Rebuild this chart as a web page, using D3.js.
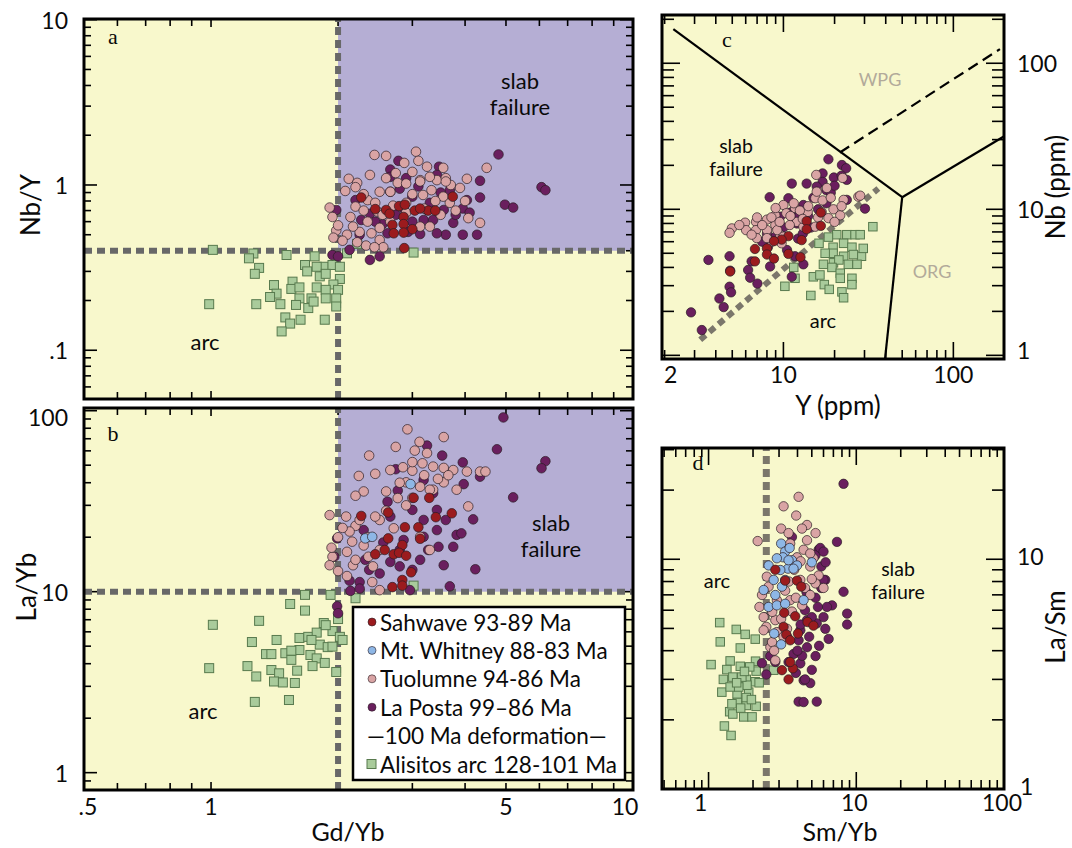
<!DOCTYPE html>
<html><head><meta charset="utf-8">
<script src="https://cdn.jsdelivr.net/npm/d3@7"></script>
<style>
body{margin:0;background:#fff}
svg{display:block}
text{font-family:Lato,'Open Sans',sans-serif;fill:#0a0a0a}
</style>
</head><body>
<svg id="chart" width="1072" height="848"></svg>
<script>
// ---------------- DATA ----------------
// Panel a: Gd/Yb vs Nb/Y
const aAlisitos = [[1.01,0.405],[1.26,0.385],[1.23,0.36],[1.30,0.315],[1.27,0.29],[1.51,0.377],[1.41,0.248],[1.43,0.22],[1.38,0.21],[1.46,0.19],[0.99,0.19],[1.28,0.19],[1.56,0.26],[1.55,0.235],[1.62,0.24],[1.76,0.37],[1.67,0.328],[1.69,0.30],[1.81,0.28],[1.85,0.32],[1.94,0.328],[2.02,0.32],[2.02,0.27],[1.95,0.25],[1.78,0.24],[1.73,0.206],[1.62,0.206],[1.59,0.188],[1.70,0.18],[1.75,0.197],[1.87,0.232],[2.0,0.232],[1.98,0.206],[1.87,0.206],[1.50,0.158],[1.54,0.145],[1.47,0.13],[1.63,0.153],[1.86,0.153],[1.98,0.184],[2.10,0.386],[1.78,0.32],[1.87,0.29],[3.02,0.39],[2.22,0.44]];
const aLaPosta = [[2.78,1.40],[2.66,1.24],[3.47,1.29],[4.8,1.53],[4.34,1.06],[4.34,0.84],[4.97,0.76],[5.2,0.73],[6.07,0.97],[6.2,0.93],[3.95,0.50],[4.27,0.50],[3.75,0.59],[3.6,0.50],[3.43,0.51],[3.13,0.505],[2.93,0.52],[2.74,0.66],[2.86,0.72],[3.25,0.706],[3.56,0.706],[3.95,0.72],[2.38,0.67],[2.27,0.614],[2.66,0.91],[2.25,0.50],[2.13,0.405],[1.94,0.377],[2.38,0.352],[2.51,0.37],[1.98,0.706],[2.2,0.81],[3.19,0.614],[4.04,0.81],[3.0,0.85],[2.62,0.51],[3.36,0.614],[3.68,0.93],[2.66,1.12],[3.43,1.15],[3.0,0.6],[3.3,0.78],[2.55,0.58],[3.8,0.66],[2.8,0.95],[4.1,0.68],[3.1,0.98],[2.45,0.6],[3.5,0.9],[2.9,1.1],[2.0,0.37]];
const aTuolumne = [[2.44,1.52],[3.06,1.59],[3.13,1.07],[2.87,1.36],[2.38,1.15],[2.6,1.10],[2.74,1.18],[3.0,1.20],[3.25,1.29],[3.55,1.27],[4.5,1.27],[4.04,1.09],[2.12,1.09],[2.22,1.03],[2.08,0.92],[2.51,0.91],[2.66,0.91],[2.77,1.03],[3.13,1.05],[3.43,1.07],[3.6,1.10],[3.89,0.96],[3.33,0.93],[2.2,0.74],[1.91,0.73],[1.94,0.64],[2.14,0.64],[2.35,0.81],[2.48,0.69],[2.35,0.6],[1.98,0.53],[2.1,0.50],[2.25,0.52],[2.33,0.43],[2.51,0.465],[2.17,0.56],[2.51,0.55],[2.66,0.60],[3.13,0.56],[3.3,0.56],[4.07,0.63],[4.34,0.59],[3.68,0.78],[2.9,0.78],[3.18,0.87],[3.55,0.85],[2.4,0.51],[2.22,0.45],[2.56,0.42],[2.44,0.42],[2.7,0.75],[2.9,0.68],[3.2,0.72],[3.4,0.8],[3.0,0.88],[2.45,0.78],[2.3,0.88],[3.7,1.0],[3.3,1.12],[2.9,1.02],[2.55,0.66],[3.5,0.66],[3.8,0.7],[2.0,0.57],[1.95,0.48],[2.05,0.46],[2.6,1.5],[3.1,1.4],[2.2,0.97],[3.6,1.05],[4.0,0.8],[2.3,0.7]];
const aSahwave = [[2.27,0.84],[2.45,0.715],[2.6,0.706],[2.79,0.745],[2.88,0.76],[3.04,0.70],[3.27,0.70],[3.4,0.70],[3.74,0.85],[2.86,0.64],[2.69,0.573],[2.86,0.58],[3.0,0.54],[2.71,0.51],[2.86,0.515],[2.87,0.415],[2.65,0.67],[3.13,0.72]];

// Panel b: Gd/Yb vs La/Yb
const bAlisitos = [[1.01,6.56],[1.30,6.9],[1.54,8.55],[1.67,9.6],[1.67,7.86],[1.92,9.6],[1.25,5.27],[1.43,5.41],[0.99,3.78],[1.22,3.88],[1.28,3.40],[1.27,2.46],[1.53,2.52],[1.35,4.52],[1.39,4.52],[1.50,4.57],[1.55,4.2],[1.39,3.69],[1.45,3.54],[1.41,3.19],[1.48,3.15],[1.58,3.13],[1.60,3.66],[1.62,5.55],[1.62,4.76],[1.72,4.47],[1.78,4.28],[1.74,3.88],[1.86,4.04],[1.81,5.1],[1.70,5.63],[1.78,5.94],[1.85,6.71],[1.94,6.06],[2.0,7.06],[2.02,5.63],[1.89,4.94],[1.94,4.97],[1.98,3.6],[1.73,5.41],[1.55,4.72],[1.87,6.53],[2.05,5.41],[2.2,9.2],[3.02,10.8]];
const bLaPosta = [[4.93,91.8],[4.76,61.2],[3.25,64.2],[3.53,56.5],[3.95,51.8],[2.74,47.5],[3.97,39.3],[4.34,43.2],[2.77,36.2],[2.62,31.4],[5.2,33.2],[4.18,25.1],[3.82,20.6],[3.92,21.0],[3.46,17.7],[3.56,14.0],[4.23,13.3],[3.68,10.7],[1.99,19.7],[1.96,15.6],[2.13,11.5],[2.25,11.3],[2.96,10.2],[3.27,17.0],[3.13,15.0],[3.0,13.2],[2.8,13.8],[2.66,14.6],[2.51,12.6],[2.37,13.2],[2.32,15.0],[2.3,21.9],[2.66,26.0],[3.0,28.3],[3.19,24.9],[3.43,28.3],[3.6,24.9],[3.75,17.7],[3.19,20.1],[2.86,19.3],[3.43,21.9],[2.56,18.7],[2.8,17.0],[3.36,35.0],[3.19,41.4],[6.2,52.6],[6.07,48.1],[1.99,8.3],[2.0,7.6],[2.14,10.1],[2.25,10.4]];
const bTuolumne = [[2.92,78.9],[3.56,71.5],[3.12,67.3],[2.74,63.1],[3.04,60.2],[2.37,56.5],[3.25,58.3],[2.45,44.8],[2.24,43.6],[2.85,48.7],[3.0,46.6],[3.17,51.2],[3.36,49.1],[3.56,48.3],[3.75,47.0],[4.04,46.1],[4.34,46.1],[4.47,46.1],[2.3,35.8],[2.2,33.9],[2.6,35.8],[2.77,32.9],[3.13,38.0],[3.36,36.6],[3.56,40.2],[3.82,36.6],[4.07,29.6],[1.91,26.5],[2.09,26.0],[2.2,23.1],[2.25,24.9],[2.13,21.5],[2.16,18.9],[2.1,16.6],[1.94,15.6],[1.91,14.0],[2.17,14.0],[2.36,15.6],[2.42,13.8],[2.51,17.0],[2.71,22.4],[2.51,24.9],[2.1,12.2],[2.41,11.3],[2.51,10.2],[3.30,17.0],[3.13,20.1],[3.3,36.6],[2.9,40.2],[2.66,47.0],[2.0,20],[2.3,18],[2.6,28],[2.9,30],[3.2,44],[3.45,42],[2.35,20],[2.45,26],[3.0,52],[3.65,44],[2.8,40],[2.2,15],[2.0,13],[3.0,33],[1.93,17.5],[2.05,22.5]];
const bSahwave = [[3.02,33.0],[3.29,33.0],[2.27,26.2],[2.63,27.4],[3.41,25.8],[3.72,27.1],[2.88,22.7],[3.10,22.7],[2.63,19.7],[3.13,19.6],[2.84,18.1],[2.45,16.1],[2.58,17.0],[2.71,16.1],[2.79,16.4],[2.9,15.8],[2.98,12.8],[2.84,11.6],[2.69,10.6],[2.84,10.8]];
const bWhitney = [[2.97,39.3],[2.32,19.7],[2.41,20.1]];

// Panel c: Y (ppm) vs Nb (ppm)
const cAlisitos = [[33.6,7.6],[23.6,6.7],[26.4,6.7],[20.6,6.7],[16.2,5.85],[18.4,6.45],[19.6,5.5],[22.6,5.85],[25.3,5.5],[28.8,4.77],[25.8,4.9],[22.6,4.77],[19.6,5.0],[17.6,5.0],[17.2,4.2],[19.7,4.3],[21.2,4.5],[24.1,4.2],[27.1,4.2],[19.3,4.0],[21.6,3.65],[25.3,3.37],[25.3,3.05],[21.6,3.37],[22.1,2.72],[22.6,2.48],[11.5,4.0],[11.7,3.37],[10.2,2.97],[17.4,3.05],[14.5,2.57],[18.6,2.83],[15.0,3.45],[16.4,3.55],[29.5,5.4],[28.3,6.7]];
const cLaPosta = [[22.1,20.1],[23.4,19.1],[23.6,15.9],[19.8,16.5],[17.0,17.6],[17.0,15.4],[13.7,15.0],[11.2,15.0],[8.3,12.1],[10.7,11.9],[15.7,14.3],[17.9,13.5],[17.9,11.0],[30.2,10.1],[23.6,11.6],[13.1,10.7],[11.7,8.9],[9.56,8.9],[8.0,6.8],[8.1,5.5],[10.5,5.26],[11.7,4.77],[13.1,4.2],[11.2,3.45],[8.35,4.06],[6.5,4.4],[6.2,3.84],[6.37,3.4],[7.03,3.1],[4.82,4.77],[4.86,3.8],[4.82,2.95],[4.92,2.7],[3.62,4.5],[4.2,2.45],[4.45,2.14],[2.86,1.97],[3.31,1.49],[12.2,6.3],[9.2,6.45],[18.4,22.0],[10,7.5],[12,8],[14,9],[16,10],[9,6.5],[13,6.8],[15,12],[19,13],[11,9.5],[7.5,6],[20,14.5],[22,17],[14.5,7.5]];
const cTuolumne = [[4.97,7.4],[4.82,6.9],[5.95,8.1],[6.03,7.2],[6.9,8.2],[6.9,7.2],[6.97,6.35],[8.0,8.5],[8.0,7.2],[8.96,9.1],[8.96,7.8],[10.0,10.7],[10.4,9.4],[11.7,10.2],[12.0,8.2],[13.9,9.6],[15.4,11.9],[15.7,13.2],[15.6,17.2],[19.7,10.0],[21.6,9.1],[22.6,11.6],[27.6,12.2],[18.4,8.7],[13.1,7.6],[10.9,7.8],[9.56,6.7],[8.55,6.0],[8.0,6.35],[9.76,5.85],[9.2,7.2],[15.4,7.6],[16.8,9.6],[22.3,16.4],[28.3,12.4],[5.5,7.8],[6.5,6.7],[7.5,7.8],[8.5,8.8],[9.5,8.2],[11,9],[12.5,9.8],[14,10.5],[17,11.5],[19,12],[7,8.8],[10,6.5],[13,8.6],[16,8.8],[20,8.2],[11.5,11],[9,10.2],[18,14],[22,10.5]];
const cSahwave = [[16.6,9.5],[13.7,8.3],[13.7,7.3],[16.6,7.7],[10.7,6.55],[9.76,6.2],[8.8,6.05],[12.8,6.15],[6.8,5.35],[8.0,5.4],[8.0,4.9],[6.8,4.4],[8.8,4.6],[10.7,4.95],[12.6,4.7],[4.86,3.75]];
const cBoundaryWPG = [[2.25,171],[50,12.1]];
const cBoundaryORG = [[50,12.1],[198,31.5]];
const cBoundaryVAG = [[50,12.1],[39.6,0.94]];
const cBoundaryDashed = [[21.5,24.5],[188,125]];
const cSlabArcLine = [[3.24,1.28],[36.2,13.9]];

// Panel d: Sm/Yb vs La/Sm
const dAlisitos = [[1.19,5.30],[1.54,4.95],[1.77,4.71],[2.07,4.49],[1.2,4.37],[1.64,4.11],[1.04,3.48],[1.40,3.61],[1.33,3.31],[1.64,3.42],[1.26,3.00],[1.46,3.07],[1.80,3.0],[2.1,3.26],[2.07,2.93],[1.23,2.64],[1.56,2.59],[1.87,2.64],[1.57,2.38],[1.80,2.31],[2.1,2.29],[1.39,2.17],[1.46,2.12],[1.73,2.06],[1.97,2.06],[1.28,1.88],[1.42,1.71],[2.76,3.29],[1.82,2.83],[1.6,2.78],[1.40,2.78],[1.8,2.5],[1.44,2.35],[1.68,3.07],[2.08,3.6],[1.9,3.4],[1.55,2.9],[1.95,2.45],[1.65,2.25],[2.2,2.9],[1.75,3.25]];
const dLaPosta = [[8.2,21.3],[7.4,11.9],[5.56,11.0],[5.3,10.4],[6.17,8.13],[8.2,7.22],[6.85,6.3],[6.33,6.2],[8.67,5.8],[8.67,5.2],[6.17,4.98],[5.4,5.26],[4.64,5.43],[4.18,4.91],[4.07,4.44],[4.64,4.14],[5.3,3.79],[3.76,3.87],[3.48,3.57],[2.83,3.57],[2.3,3.53],[2.62,3.79],[4.18,3.52],[4.4,2.97],[4.88,2.89],[4.07,2.4],[4.4,2.39],[5.4,2.4],[6.0,8.13],[2.46,3.15],[5.7,11.2],[6.0,10.8],[3.67,12.5],[4.5,6.0],[5.0,5.6],[5.3,6.8],[4.8,4.6],[5.6,4.2],[4.3,3.8],[5.8,7.5],[4.0,4.0],[5.0,3.3],[6.5,4.5],[3.9,3.2],[5.5,6.2],[4.6,7.2],[3.4,4.6],[4.2,5.2],[6.0,5.6],[5.8,9.3],[6.2,9.7],[4.5,3.0]];
const dTuolumne = [[4.07,18.7],[3.22,17.0],[3.92,15.5],[4.64,14.1],[5.3,13.0],[3.1,13.6],[4.29,13.6],[2.15,12.0],[3.57,11.7],[4.64,12.1],[4.4,11.0],[5.13,10.1],[4.88,9.3],[5.56,8.5],[5.3,7.85],[6.0,7.5],[4.18,8.13],[4.5,7.5],[4.88,6.99],[2.48,8.4],[2.55,7.6],[2.3,6.99],[2.21,6.2],[2.36,5.6],[2.46,5.08],[2.83,5.43],[2.9,4.82],[3.4,4.98],[2.9,6.64],[3.57,6.64],[3.67,5.92],[3.22,4.6],[2.83,3.63],[2.62,4.14],[2.36,4.91],[4.88,10.6],[3.97,10.2],[3.48,13.0],[2.69,4.36],[2.78,4.0],[3.8,9.0],[4.2,9.8],[3.3,7.3],[3.9,6.8],[4.3,6.3],[3.1,5.5],[3.5,8.0],[5.0,8.2],[2.7,5.9]];
const dWhitney = [[3.1,11.7],[3.3,10.8],[3.67,9.9],[3.45,9.1],[3.97,9.4],[3.19,10.2],[2.55,9.4],[3.06,8.98],[3.3,8.13],[3.14,7.6],[2.36,7.35],[2.83,6.99],[2.55,6.2],[2.9,6.3],[3.3,6.4],[4.4,6.64],[5.0,9.7],[2.78,4.75],[3.1,4.26],[3.48,9.9],[3.76,9.1],[2.9,10.1],[2.76,8.13],[3.54,11.2]];
const dSahwave = [[2.83,9.0],[3.3,8.07],[3.97,8.07],[4.24,7.6],[3.25,5.85],[3.86,5.65],[4.68,5.33],[5.13,5.14],[3.22,5.08],[3.36,4.7],[4.03,4.75],[3.57,4.44],[3.14,3.29],[3.72,3.35],[3.48,3.0],[3.57,3.57]];

// Tick labels
const abXTickLabels = [[0.5,".5"],[1,"1"],[5,"5"],[10,"10"]];
const aYTickLabels = [[0.1,".1"],[1,"1"],[10,"10"]];
const bYTickLabels = [[1,"1"],[10,"10"],[100,"100"]];
const cXTickLabels = [[2,"2"],[10,"10"],[100,"100"]];
const cYTickLabels = [[1,"1"],[10,"10"],[100,"100"]];
const dXTickLabels = [[1,"1"],[10,"10"],[100,"100"]];
const dYTickLabels = [[1,"1"],[10,"10"]];

// Legend
const legendLabels = ["Sahwave 93-89 Ma","Mt. Whitney 88-83 Ma","Tuolumne 94-86 Ma","La Posta 99\u201386 Ma","\u2014100 Ma deformation\u2014","Alisitos arc 128-101 Ma"];
const legendKeys = ["sahwave","whitney","tuolumne","laposta","line","alisitos"];

// ---------------- STYLE ----------------
const COL = {
  yellow:"#f8f8cc", purpleBg:"#b5aed4",
  sahwave:"#9b1b1e", whitney:"#8eb7e6", tuolumne:"#d9a4a4", laposta:"#6a1f5e",
  alisitos:"#a9cb9b", alisitosStroke:"#587a4e",
  dashAB:"#686868", dashCD:"#7b776b"
};
const svg = d3.select("#chart");

function logTickValues(dom){
  const out=[];
  const lo=Math.floor(Math.log10(dom[0])), hi=Math.ceil(Math.log10(dom[1]));
  for(let k=lo;k<=hi;k++) for(let m=1;m<=9;m++){
    const v=m*Math.pow(10,k);
    if(v>=dom[0]*1.001 && v<=dom[1]*0.999) out.push(v);
  }
  return out;
}
const isDecade = v => Math.abs(Math.log10(v)-Math.round(Math.log10(v)))<1e-6;

function makePanel(cfg){
  const x=d3.scaleLog().domain(cfg.xDomain).range([cfg.x0,cfg.x1]);
  const y=d3.scaleLog().domain(cfg.yDomain).range([cfg.y1,cfg.y0]);
  const g=svg.append("g");
  g.append("rect").attr("x",cfg.x0).attr("y",cfg.y0).attr("width",cfg.x1-cfg.x0).attr("height",cfg.y1-cfg.y0).attr("fill",COL.yellow);
  return {x,y,g,cfg};
}
function drawTicks(p, o){
  const {x,y,g,cfg}=p;
  const tg=g.append("g").attr("stroke","#000").attr("stroke-width",1.6);
  logTickValues(cfg.xDomain).forEach(v=>{
    const L = isDecade(v)?o.xMaj:o.xMin;
    tg.append("line").attr("x1",x(v)).attr("x2",x(v)).attr("y1",cfg.y1).attr("y2",cfg.y1-L);
    tg.append("line").attr("x1",x(v)).attr("x2",x(v)).attr("y1",cfg.y0).attr("y2",cfg.y0+L);
  });
  logTickValues(cfg.yDomain).forEach(v=>{
    const L = isDecade(v)?o.yMaj:o.yMin;
    tg.append("line").attr("y1",y(v)).attr("y2",y(v)).attr("x1",cfg.x0).attr("x2",cfg.x0+L);
    tg.append("line").attr("y1",y(v)).attr("y2",y(v)).attr("x1",cfg.x1).attr("x2",cfg.x1-L);
  });
}
function drawFrame(p){
  const c=p.cfg;
  p.g.append("rect").attr("x",c.x0).attr("y",c.y0).attr("width",c.x1-c.x0).attr("height",c.y1-c.y0)
    .attr("fill","none").attr("stroke","#000").attr("stroke-width",3);
}
function circles(p, data, color, r){
  p.g.append("g").selectAll("circle").data(data).join("circle")
    .attr("cx",d=>p.x(d[0])).attr("cy",d=>p.y(d[1])).attr("r",r)
    .attr("fill",color).attr("stroke","#2a1c24").attr("stroke-width",0.7);
}
function squares(p, data, s){
  p.g.append("g").selectAll("rect").data(data).join("rect")
    .attr("x",d=>p.x(d[0])-s/2).attr("y",d=>p.y(d[1])-s/2).attr("width",s).attr("height",s)
    .attr("fill",COL.alisitos).attr("stroke",COL.alisitosStroke).attr("stroke-width",1);
}
function line(p, pts, opts){
  p.g.append("path").attr("d",d3.line().x(d=>p.x(d[0])).y(d=>p.y(d[1]))(pts))
    .attr("fill","none").attr("stroke",opts.color).attr("stroke-width",opts.width)
    .attr("stroke-dasharray",opts.dash||null);
}
function txt(x,y,s,size,opts={}){
  const t=svg.append("text").attr("x",x).attr("y",y).attr("font-size",size).text(s)
    .attr("text-anchor",opts.anchor||"middle").attr("dominant-baseline",opts.baseline||"auto");
  if(opts.fill) t.style("fill",opts.fill);
  if(opts.family) t.style("font-family",opts.family);
  if(opts.rotate) t.attr("transform",`rotate(${opts.rotate},${x},${y})`);
  return t;
}

// ---------------- PANEL A ----------------
const A = makePanel({x0:84,x1:633,y0:19,y1:399,xDomain:[0.5,10],yDomain:[0.0507,10.1]});
A.g.append("rect").attr("x",A.x(2)).attr("y",A.cfg.y0).attr("width",A.cfg.x1-A.x(2)).attr("height",A.y(0.4)-A.cfg.y0).attr("fill",COL.purpleBg);
drawTicks(A,{xMaj:8,xMin:7,yMaj:13,yMin:7});
line(A,[[2,0.0507],[2,10.1]],{color:COL.dashAB,width:6,dash:"8,5"});
line(A,[[0.5,0.4],[10,0.4]],{color:COL.dashAB,width:6,dash:"8,5"});
squares(A,aAlisitos,9);
circles(A,aLaPosta,COL.laposta,4.8);
circles(A,aTuolumne,COL.tuolumne,4.8);
circles(A,aSahwave,COL.sahwave,4.8);
drawFrame(A);

// ---------------- PANEL B ----------------
const B = makePanel({x0:84,x1:633,y0:408,y1:790,xDomain:[0.5,10],yDomain:[0.802,103.5]});
B.g.append("rect").attr("x",B.x(2)).attr("y",B.cfg.y0).attr("width",B.cfg.x1-B.x(2)).attr("height",B.y(10)-B.cfg.y0).attr("fill",COL.purpleBg);
drawTicks(B,{xMaj:8,xMin:7,yMaj:13,yMin:7});
line(B,[[2,0.802],[2,103.5]],{color:COL.dashAB,width:6,dash:"8,5"});
line(B,[[0.5,10],[10,10]],{color:COL.dashAB,width:6,dash:"8,5"});
squares(B,bAlisitos,9);
circles(B,bLaPosta,COL.laposta,4.8);
circles(B,bTuolumne,COL.tuolumne,4.8);
circles(B,bWhitney,COL.whitney,4.8);
circles(B,bSahwave,COL.sahwave,4.8);
drawFrame(B);

// ---------------- PANEL C ----------------
const C = makePanel({x0:662,x1:1004,y0:15,y1:359,xDomain:[1.93,198.6],yDomain:[0.944,214]});
drawTicks(C,{xMaj:17,xMin:9,yMaj:18,yMin:12});
line(C,cBoundaryWPG,{color:"#000",width:2.2});
line(C,cBoundaryORG,{color:"#000",width:2.2});
line(C,cBoundaryVAG,{color:"#000",width:2.2});
line(C,cBoundaryDashed,{color:"#000",width:2.2,dash:"11,6"});
line(C,cSlabArcLine,{color:COL.dashCD,width:6,dash:"7,5"});
squares(C,cAlisitos,8.5);
circles(C,cLaPosta,COL.laposta,4.7);
circles(C,cTuolumne,COL.tuolumne,4.7);
circles(C,cSahwave,COL.sahwave,4.7);
drawFrame(C);

// ---------------- PANEL D ----------------
const D = makePanel({x0:662,x1:1004,y0:448,y1:789,xDomain:[0.484,100],yDomain:[1,30.5]});
drawTicks(D,{xMaj:17,xMin:9,yMaj:18,yMin:12});
line(D,[[2.46,1],[2.46,30.5]],{color:COL.dashCD,width:7,dash:"8,5"});
squares(D,dAlisitos,8.5);
circles(D,dLaPosta,COL.laposta,4.7);
circles(D,dTuolumne,COL.tuolumne,4.7);
circles(D,dWhitney,COL.whitney,4.7);
circles(D,dSahwave,COL.sahwave,4.7);
drawFrame(D);

// ---------------- TEXT ----------------
const TICK=23, TITLE=26, REG=22;
aYTickLabels.forEach(([v,s])=>txt(68,A.y(v),s,TICK,{anchor:"end",baseline:"central"}));
bYTickLabels.forEach(([v,s])=>txt(68,B.y(v)+(v===100?6:0),s,TICK,{anchor:"end",baseline:"central"}));
abXTickLabels.forEach(([v,s])=>txt(B.x(v)+(v===0.5?4:(v===10?-8:0)),806,s,TICK,{baseline:"central"}));
cXTickLabels.forEach(([v,s])=>txt(C.x(v)+(v===2?6:0),374,s,TICK,{baseline:"central"}));
cYTickLabels.forEach(([v,s])=>txt(1017,C.y(v)+(v===1?-5:0),s,TICK,{anchor:"start",baseline:"central"}));
dXTickLabels.forEach(([v,s])=>txt(D.x(v)-(v===1?8:2),802,s,TICK,{baseline:"central"}));
dYTickLabels.forEach(([v,s])=>txt(v===1?1020:1017,D.y(v)-3,s,TICK,{anchor:"start",baseline:"central"}));

txt(30,205,"Nb/Y",TITLE,{rotate:-90,baseline:"central"});
txt(26,587,"La/Yb",TITLE,{rotate:-90,baseline:"central"});
txt(348,831,"Gd/Yb",25,{baseline:"central"});
txt(838,405,"Y (ppm)",TITLE,{baseline:"central"});
txt(840,831,"Sm/Yb",25,{baseline:"central"});
txt(1055,187,"Nb (ppm)",TITLE,{rotate:-90,baseline:"central"});
txt(1055,627,"La/Sm",TITLE,{rotate:-90,baseline:"central"});

// panel letters
const serif="'Liberation Serif','DejaVu Serif',serif";
txt(113,44,"a",22,{family:serif});
txt(113,441,"b",22,{family:serif});
txt(727,47,"c",22,{family:serif});
txt(698,470,"d",22,{family:serif});

// region labels
txt(520,80,"slab",REG,{baseline:"central"}); txt(520,106,"failure",REG,{baseline:"central"});
txt(205,341,"arc",REG,{baseline:"central"});
txt(551,522,"slab",REG,{baseline:"central"}); txt(551,548,"failure",REG,{baseline:"central"});
txt(203,710,"arc",REG,{baseline:"central"});
txt(736,145,"slab",19.5,{baseline:"central"}); txt(736,168,"failure",19.5,{baseline:"central"});
txt(823,320,"arc",20,{baseline:"central"});
txt(880,79,"WPG",18,{fill:"#b2aa9a",baseline:"central"});
txt(932,271,"ORG",18,{fill:"#b2aa9a",baseline:"central"});
txt(717,580,"arc",20,{baseline:"central"});
txt(898,568,"slab",19.5,{baseline:"central"}); txt(898,591,"failure",19.5,{baseline:"central"});

// ---------------- LEGEND ----------------
const lg=svg.append("g");
lg.append("rect").attr("x",353).attr("y",607).attr("width",272).attr("height",173).attr("fill","#fff").attr("stroke","#000").attr("stroke-width",2.5);
const legY = d3.scalePoint().domain(legendKeys).range([622,764]);
legendKeys.forEach((k,i)=>{
  const yy=legY(k);
  if(k==="alisitos"){
    lg.append("rect").attr("x",367).attr("y",yy-4.5).attr("width",9).attr("height",9).attr("fill",COL.alisitos).attr("stroke",COL.alisitosStroke);
  } else if(k!=="line"){
    lg.append("circle").attr("cx",372).attr("cy",yy).attr("r",4).attr("fill",COL[k]).attr("stroke","#2a1c24").attr("stroke-width",0.6);
  }
  lg.append("text").attr("x",k==="line"?367:380).attr("y",yy).attr("dominant-baseline","central").attr("font-size",22.5).text(legendLabels[i]);
});
</script>
</body></html>
